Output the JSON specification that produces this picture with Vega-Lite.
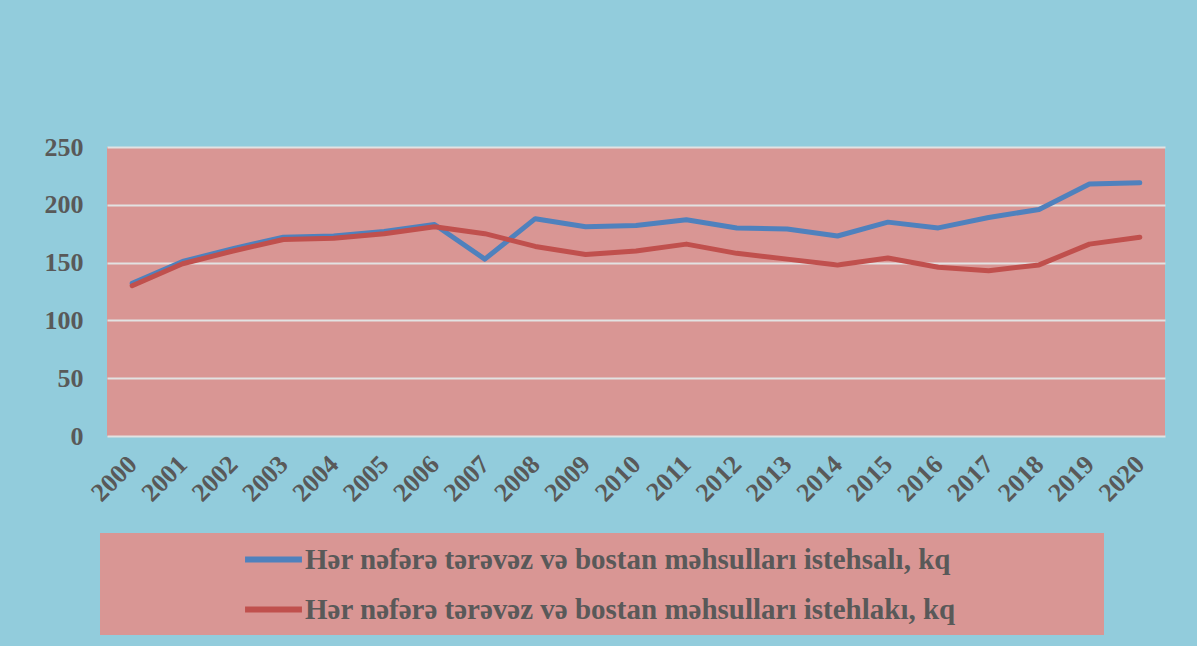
{
  "$schema": "https://vega.github.io/schema/vega-lite/v6.json",
  "width": 1058,
  "height": 289,
  "autosize": {"type": "none"},
  "padding": {"left": 107, "top": 147, "right": 32, "bottom": 210},
  "background": "#92CCDC",
  "datasets": {
    "rows": [
      {"year": "2000", "series": "Hər nəfərə tərəvəz və bostan məhsulları istehsalı, kq", "value": 132},
      {"year": "2001", "series": "Hər nəfərə tərəvəz və bostan məhsulları istehsalı, kq", "value": 151},
      {"year": "2002", "series": "Hər nəfərə tərəvəz və bostan məhsulları istehsalı, kq", "value": 162},
      {"year": "2003", "series": "Hər nəfərə tərəvəz və bostan məhsulları istehsalı, kq", "value": 172},
      {"year": "2004", "series": "Hər nəfərə tərəvəz və bostan məhsulları istehsalı, kq", "value": 173},
      {"year": "2005", "series": "Hər nəfərə tərəvəz və bostan məhsulları istehsalı, kq", "value": 177},
      {"year": "2006", "series": "Hər nəfərə tərəvəz və bostan məhsulları istehsalı, kq", "value": 183},
      {"year": "2007", "series": "Hər nəfərə tərəvəz və bostan məhsulları istehsalı, kq", "value": 153},
      {"year": "2008", "series": "Hər nəfərə tərəvəz və bostan məhsulları istehsalı, kq", "value": 188},
      {"year": "2009", "series": "Hər nəfərə tərəvəz və bostan məhsulları istehsalı, kq", "value": 181},
      {"year": "2010", "series": "Hər nəfərə tərəvəz və bostan məhsulları istehsalı, kq", "value": 182},
      {"year": "2011", "series": "Hər nəfərə tərəvəz və bostan məhsulları istehsalı, kq", "value": 187},
      {"year": "2012", "series": "Hər nəfərə tərəvəz və bostan məhsulları istehsalı, kq", "value": 180},
      {"year": "2013", "series": "Hər nəfərə tərəvəz və bostan məhsulları istehsalı, kq", "value": 179},
      {"year": "2014", "series": "Hər nəfərə tərəvəz və bostan məhsulları istehsalı, kq", "value": 173},
      {"year": "2015", "series": "Hər nəfərə tərəvəz və bostan məhsulları istehsalı, kq", "value": 185},
      {"year": "2016", "series": "Hər nəfərə tərəvəz və bostan məhsulları istehsalı, kq", "value": 180},
      {"year": "2017", "series": "Hər nəfərə tərəvəz və bostan məhsulları istehsalı, kq", "value": 189},
      {"year": "2018", "series": "Hər nəfərə tərəvəz və bostan məhsulları istehsalı, kq", "value": 196},
      {"year": "2019", "series": "Hər nəfərə tərəvəz və bostan məhsulları istehsalı, kq", "value": 218},
      {"year": "2020", "series": "Hər nəfərə tərəvəz və bostan məhsulları istehsalı, kq", "value": 219},
      {"year": "2000", "series": "Hər nəfərə tərəvəz və bostan məhsulları istehlakı, kq", "value": 130},
      {"year": "2001", "series": "Hər nəfərə tərəvəz və bostan məhsulları istehlakı, kq", "value": 149},
      {"year": "2002", "series": "Hər nəfərə tərəvəz və bostan məhsulları istehlakı, kq", "value": 160},
      {"year": "2003", "series": "Hər nəfərə tərəvəz və bostan məhsulları istehlakı, kq", "value": 170},
      {"year": "2004", "series": "Hər nəfərə tərəvəz və bostan məhsulları istehlakı, kq", "value": 171},
      {"year": "2005", "series": "Hər nəfərə tərəvəz və bostan məhsulları istehlakı, kq", "value": 175},
      {"year": "2006", "series": "Hər nəfərə tərəvəz və bostan məhsulları istehlakı, kq", "value": 181},
      {"year": "2007", "series": "Hər nəfərə tərəvəz və bostan məhsulları istehlakı, kq", "value": 175},
      {"year": "2008", "series": "Hər nəfərə tərəvəz və bostan məhsulları istehlakı, kq", "value": 164},
      {"year": "2009", "series": "Hər nəfərə tərəvəz və bostan məhsulları istehlakı, kq", "value": 157},
      {"year": "2010", "series": "Hər nəfərə tərəvəz və bostan məhsulları istehlakı, kq", "value": 160},
      {"year": "2011", "series": "Hər nəfərə tərəvəz və bostan məhsulları istehlakı, kq", "value": 166},
      {"year": "2012", "series": "Hər nəfərə tərəvəz və bostan məhsulları istehlakı, kq", "value": 158},
      {"year": "2013", "series": "Hər nəfərə tərəvəz və bostan məhsulları istehlakı, kq", "value": 153},
      {"year": "2014", "series": "Hər nəfərə tərəvəz və bostan məhsulları istehlakı, kq", "value": 148},
      {"year": "2015", "series": "Hər nəfərə tərəvəz və bostan məhsulları istehlakı, kq", "value": 154},
      {"year": "2016", "series": "Hər nəfərə tərəvəz və bostan məhsulları istehlakı, kq", "value": 146},
      {"year": "2017", "series": "Hər nəfərə tərəvəz və bostan məhsulları istehlakı, kq", "value": 143},
      {"year": "2018", "series": "Hər nəfərə tərəvəz və bostan məhsulları istehlakı, kq", "value": 148},
      {"year": "2019", "series": "Hər nəfərə tərəvəz və bostan məhsulları istehlakı, kq", "value": 166},
      {"year": "2020", "series": "Hər nəfərə tərəvəz və bostan məhsulları istehlakı, kq", "value": 172}
    ]
  },
  "data": {"name": "rows"},
  "mark": {"type": "line", "strokeWidth": 5, "strokeCap": "round", "strokeJoin": "round"},
  "encoding": {
    "x": {
      "field": "year",
      "type": "ordinal",
      "scale": {"type": "point", "padding": 0.5},
      "axis": {
        "title": null,
        "domain": false,
        "ticks": false,
        "grid": false,
        "labelAngle": -45,
        "labelAlign": "right",
        "labelBaseline": "middle",
        "labelPadding": 24,
        "labelFont": "Liberation Serif",
        "labelFontWeight": "bold",
        "labelFontSize": 26,
        "labelColor": "#595959"
      }
    },
    "y": {
      "field": "value",
      "type": "quantitative",
      "scale": {"domain": [0, 250]},
      "axis": {
        "title": null,
        "values": [0, 50, 100, 150, 200, 250],
        "domain": false,
        "ticks": false,
        "gridColor": "#E2E2E2",
        "gridWidth": 2,
        "labelPadding": 24,
        "labelFont": "Liberation Serif",
        "labelFontWeight": "bold",
        "labelFontSize": 26,
        "labelColor": "#595959"
      }
    },
    "color": {
      "field": "series",
      "type": "nominal",
      "scale": {
        "domain": [
          "Hər nəfərə tərəvəz və bostan məhsulları istehsalı, kq",
          "Hər nəfərə tərəvəz və bostan məhsulları istehlakı, kq"
        ],
        "range": ["#4F81BD", "#C0504D"]
      },
      "legend": {
        "title": "\u00a0",
        "titleOrient": "left",
        "titleFont": "Liberation Serif",
        "titleFontSize": 2,
        "titlePadding": 147,
        "orient": "none",
        "legendX": -7,
        "legendY": 386,
        "fillColor": "#D99694",
        "padding": 10,
        "rowPadding": 18,
        "symbolType": "M-2.15,0H2.15",
        "symbolSize": 700,
        "symbolStrokeWidth": 6,
        "symbolStrokeCap": "round",
        "labelOffset": 15,
        "labelLimit": 1100,
        "labelExpr": "datum.label + '\u00a0\u00a0\u00a0\u00a0\u00a0\u00a0\u00a0\u00a0\u00a0\u00a0\u00a0\u00a0\u00a0\u00a0\u00a0\u00a0\u00a0\u00a0\u00a0\u200b'",
        "labelFont": "Liberation Serif",
        "labelFontWeight": "bold",
        "labelFontSize": 29,
        "labelColor": "#595959"
      }
    }
  },
  "config": {
    "view": {"fill": "#D99694", "stroke": null}
  }
}
